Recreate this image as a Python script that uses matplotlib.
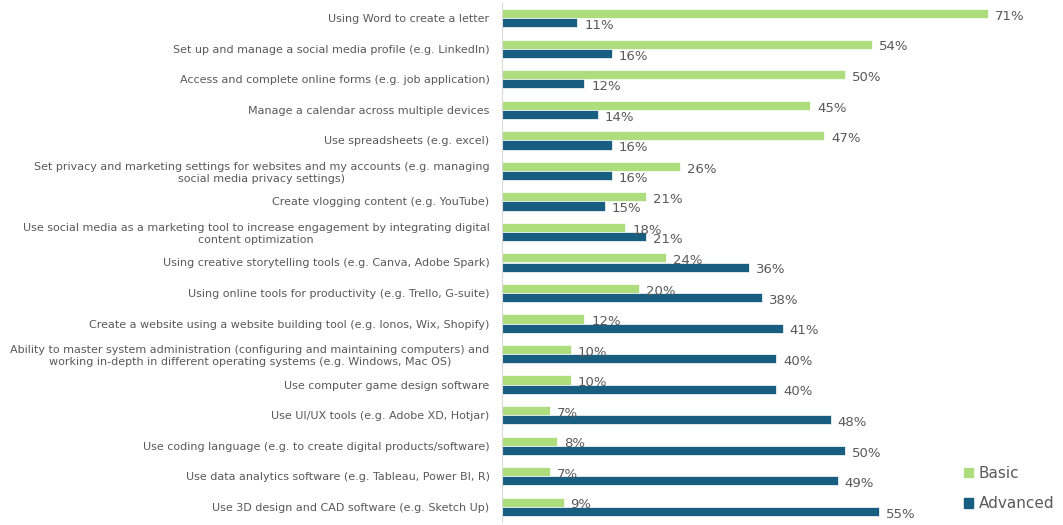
import matplotlib.pyplot as plt
from matplotlib.patches import Patch

categories = [
    "Using Word to create a letter",
    "Set up and manage a social media profile (e.g. LinkedIn)",
    "Access and complete online forms (e.g. job application)",
    "Manage a calendar across multiple devices",
    "Use spreadsheets (e.g. excel)",
    "Set privacy and marketing settings for websites and my accounts (e.g. managing\nsocial media privacy settings)",
    "Create vlogging content (e.g. YouTube)",
    "Use social media as a marketing tool to increase engagement by integrating digital\ncontent optimization",
    "Using creative storytelling tools (e.g. Canva, Adobe Spark)",
    "Using online tools for productivity (e.g. Trello, G-suite)",
    "Create a website using a website building tool (e.g. Ionos, Wix, Shopify)",
    "Ability to master system administration (configuring and maintaining computers) and\nworking in-depth in different operating systems (e.g. Windows, Mac OS)",
    "Use computer game design software",
    "Use UI/UX tools (e.g. Adobe XD, Hotjar)",
    "Use coding language (e.g. to create digital products/software)",
    "Use data analytics software (e.g. Tableau, Power BI, R)",
    "Use 3D design and CAD software (e.g. Sketch Up)",
]
basic = [71, 54, 50, 45, 47, 26, 21, 18, 24, 20, 12, 10, 10, 7, 8, 7, 9]
advanced = [11, 16, 12, 14, 16, 16, 15, 21, 36, 38, 41, 40, 40, 48, 50, 49, 55]

GREEN = "#AEDD7E"
BLUE = "#175E81"
TEXT = "#595959"

plt.rcParams['font.family'] = ['DejaVu Sans']

fig = plt.figure(figsize=(10.63, 5.25), dpi=100)
ax = fig.add_axes([502 / 1063, 3 / 525, 548 / 1063, 519 / 525])

y = list(range(len(categories)))
h = 0.3
ax.barh([i - h / 2 for i in y], basic, height=h, color=GREEN, edgecolor="white", linewidth=0.5)
ax.barh([i + h / 2 for i in y], advanced, height=h, color=BLUE, edgecolor="white", linewidth=0.5)

# percentage labels just past the end of each bar
for i in y:
    ax.annotate(f"{basic[i]}%", (basic[i], i - h / 2), xytext=(5, -2), textcoords="offset points",
                va="center", ha="left", fontsize=9.5, color=TEXT)
    ax.annotate(f"{advanced[i]}%", (advanced[i], i + h / 2), xytext=(5, -2), textcoords="offset points",
                va="center", ha="left", fontsize=9.5, color=TEXT)

ax.set_xlim(0, 80)
ax.set_ylim(len(categories) - 0.5, -0.5)
ax.set_yticks(y)
ax.set_yticklabels(categories, fontsize=8, color=TEXT, multialignment="center")
ax.tick_params(axis="y", length=0, pad=9)
ax.set_xticks([])
for s in ["top", "right", "bottom"]:
    ax.spines[s].set_visible(False)
ax.spines["left"].set_color("#D9D9D9")

handles = [Patch(color=GREEN, label="Basic"), Patch(color=BLUE, label="Advanced")]
fig.legend(handles=handles, loc="lower right", bbox_to_anchor=(1.005, 0.0), frameon=False,
           fontsize=11, labelcolor=TEXT, handlelength=0.6, handleheight=0.6,
           handletextpad=0.4, labelspacing=1.0)

fig.savefig("out.png", dpi=100)
